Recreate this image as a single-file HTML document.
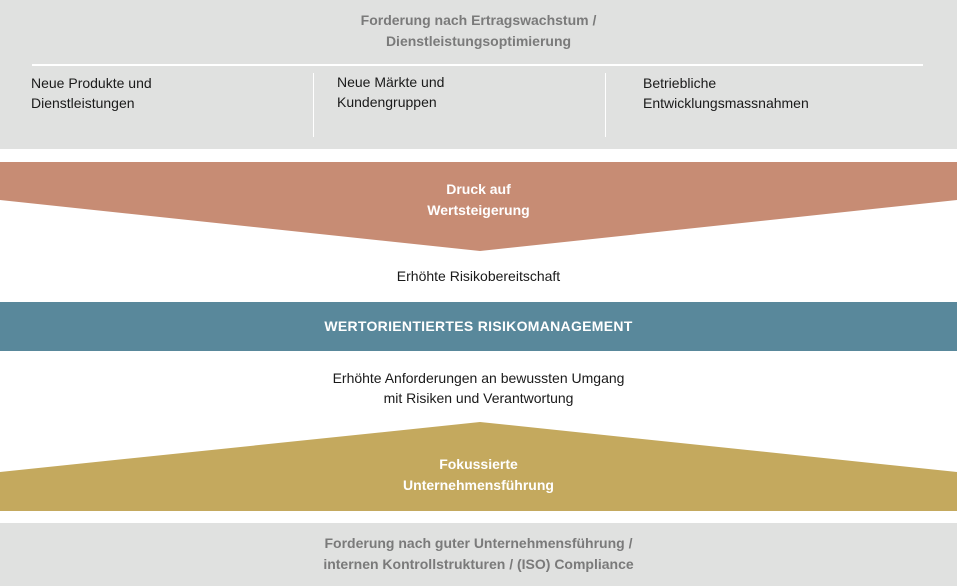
<!DOCTYPE html>
<html><head><meta charset="utf-8"><style>
body{margin:0;width:957px;height:586px;position:relative;overflow:hidden;background:#fff;font-family:"Liberation Sans",sans-serif;}
.a{position:absolute;}
.c{text-align:center;width:957px;left:0;}
.g{color:#7a7a7a;font-weight:bold;font-size:14px;line-height:21px;}
.t{font-size:14px;line-height:20px;color:#1a1a1a;}
.w{color:#fff;font-weight:bold;font-size:14px;line-height:21px;}
</style></head><body>
<div class="a" style="left:0;top:0;width:957px;height:149px;background:#e0e1e0"></div>
<div class="a c g" style="top:10px">Forderung nach Ertragswachstum /<br>Dienstleistungsoptimierung</div>
<div class="a" style="left:32px;top:64px;width:891px;height:2px;background:#fff"></div>
<div class="a" style="left:313px;top:73px;width:1px;height:64px;background:#fff"></div>
<div class="a" style="left:605px;top:73px;width:1px;height:64px;background:#fff"></div>
<div class="a t" style="left:31px;top:73px">Neue Produkte und<br>Dienstleistungen</div>
<div class="a t" style="left:337px;top:72px">Neue Märkte und<br>Kundengruppen</div>
<div class="a t" style="left:643px;top:73px">Betriebliche<br>Entwicklungsmassnahmen</div>
<svg class="a" style="left:0;top:0" width="957" height="586">
<polygon points="0,162 957,162 957,200 480,251 0,200" fill="#c78c74"/>
<rect x="0" y="302" width="957" height="49" fill="#59889b"/>
<polygon points="0,472 480,422 957,472 957,511 0,511" fill="#c4a95e"/>
<rect x="0" y="523" width="957" height="63" fill="#e0e1e0"/>
</svg>
<div class="a c w" style="top:179px">Druck auf<br>Wertsteigerung</div>
<div class="a c t" style="top:266px">Erhöhte Risikobereitschaft</div>
<div class="a c w" style="top:316px;letter-spacing:0.3px">WERTORIENTIERTES RISIKOMANAGEMENT</div>
<div class="a c t" style="top:368px">Erhöhte Anforderungen an bewussten Umgang<br>mit Risiken und Verantwortung</div>
<div class="a c w" style="top:454px">Fokussierte<br>Unternehmensführung</div>
<div class="a c g" style="top:533px">Forderung nach guter Unternehmensführung /<br>internen Kontrollstrukturen / (ISO) Compliance</div>
</body></html>
